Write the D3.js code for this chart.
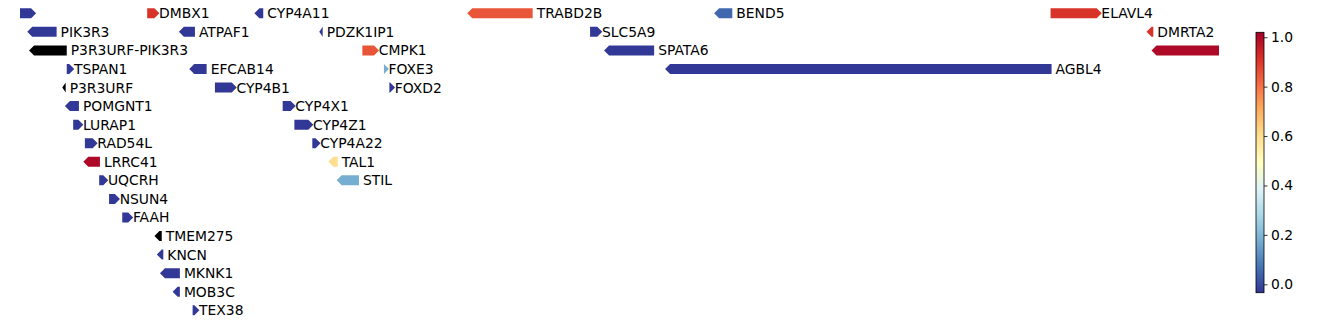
<!DOCTYPE html>
<html>
<head>
<meta charset="utf-8">
<script src="https://cdn.jsdelivr.net/npm/d3@7"></script>
<style>
  body { margin: 0; background: #fff; }
  svg { display: block; font-family: "DejaVu Sans", sans-serif; }
</style>
</head>
<body>
<div id="chart"></div>
<script>
var width = 1338;
var height = 324;

// genes in the region (chr1, positions in Mb), lane = stacking row
var genes   = ["MAST2", "DMBX1", "CYP4A11", "TRABD2B", "BEND5", "ELAVL4",
               "PIK3R3", "ATPAF1", "PDZK1IP1", "SLC5A9", "DMRTA2",
               "P3R3URF-PIK3R3", "CMPK1", "SPATA6", "FAF1",
               "TSPAN1", "EFCAB14", "FOXE3", "AGBL4",
               "P3R3URF", "CYP4B1", "FOXD2",
               "POMGNT1", "CYP4X1",
               "LURAP1", "CYP4Z1",
               "RAD54L", "CYP4A22",
               "LRRC41", "TAL1",
               "UQCRH", "STIL",
               "NSUN4", "FAAH", "TMEM275", "KNCN", "MKNK1", "MOB3C", "TEX38"];
var starts  = [45.787, 46.535, 46.948, 47.768, 48.719, 50.015,
               46.073, 46.657, 47.198, 48.241, 50.385,
               46.080, 47.364, 48.295, 50.404,
               46.225, 46.697, 47.447, 48.530,
               46.208, 46.796, 47.468,
               46.218, 47.057,
               46.250, 47.102,
               46.295, 47.171,
               46.289, 47.233,
               46.350, 47.265,
               46.388, 46.439, 46.563, 46.572, 46.584, 46.633, 46.710];
var ends    = [46.107, 46.582, 46.982, 48.020, 48.789, 50.212,
               46.186, 46.719, 47.211, 48.288, 50.411,
               46.225, 47.428, 48.488, 50.961,
               46.254, 46.764, 47.466, 50.019,
               46.221, 46.880, 47.490,
               46.272, 47.107,
               46.289, 47.175,
               46.344, 47.203,
               46.353, 47.269,
               46.385, 47.351,
               46.430, 46.481, 46.591, 46.597, 46.661, 46.661, 46.736];
var strands = [1, 1, -1, -1, -1, 1,
               -1, -1, -1, 1, -1,
               -1, 1, -1, -1,
               1, -1, 1, -1,
               -1, 1, 1,
               -1, 1,
               1, 1,
               1, 1,
               -1, -1,
               1, -1,
               1, 1, -1, -1, -1, -1, 1];
var lanes   = [0, 0, 0, 0, 0, 0,
               1, 1, 1, 1, 1,
               2, 2, 2, 2,
               3, 3, 3, 3,
               4, 4, 4,
               5, 5,
               6, 6,
               7, 7,
               8, 8,
               9, 9,
               10, 11, 12, 13, 14, 15, 16];
// null = no value (drawn black)
var values  = [-0.03, 0.91, -0.03, 0.85, 0.05, 0.91,
               -0.03, -0.03, -0.03, -0.03, 0.91,
               null, 0.85, -0.03, 1.0,
               -0.03, -0.03, 0.18, -0.03,
               null, -0.03, -0.03,
               -0.03, -0.03,
               -0.03, -0.03,
               -0.03, -0.03,
               1.0, 0.6,
               -0.03, 0.18,
               -0.03, -0.03, null, -0.03, -0.03, -0.03, -0.03];

var regionStart = 46.045;
var regionEnd = 50.664;
var vmin = -0.034, vmax = 1.02;
var cbTicks = [0.0, 0.2, 0.4, 0.6, 0.8, 1.0];

// RdYlBu reversed, as in matplotlib
var cmapColors = ["#313695", "#4575b4", "#74add1", "#abd9e9", "#e0f3f8", "#ffffbf",
                  "#fee090", "#fdae61", "#f46d43", "#d73027", "#a50026"];

var fontSize = "13.89px";

var x = d3.scaleLinear().domain([regionStart, regionEnd]).range([20, 1219]);
var y = d3.scaleLinear().domain([0, 16]).range([13.3, 310.3]);
var norm = d3.scaleLinear().domain([vmin, vmax]).range([0, 1]).clamp(true);
var cmap = d3.scaleLinear()
    .domain(d3.range(cmapColors.length).map(function (i) { return i / (cmapColors.length - 1); }))
    .range(cmapColors);

function colorOf(v) {
    if (v === null) return "#000";
    return cmap(norm(v));
}

var data = genes.map(function (g, i) {
    return { name: g, start: starts[i], end: ends[i], strand: strands[i], lane: lanes[i], value: values[i] };
});

var svg = d3.select("#chart").append("svg")
    .attr("width", width)
    .attr("height", height);

svg.append("clipPath").attr("id", "plot-clip")
    .append("rect")
    .attr("x", x.range()[0]).attr("y", 0)
    .attr("width", x.range()[1] - x.range()[0]).attr("height", height);

/**
 * Gene body with a pointed end in the direction of the strand.
 */
function arrowPath(d) {
    var x0 = x(d.start), x1 = x(d.end), cy = y(d.lane), h = 5;
    var head = Math.min(5, x1 - x0);
    if (d.strand > 0) {
        return "M" + x0 + "," + (cy - h) + "L" + (x1 - head) + "," + (cy - h) +
            "L" + x1 + "," + cy + "L" + (x1 - head) + "," + (cy + h) +
            "L" + x0 + "," + (cy + h) + "Z";
    }
    return "M" + x1 + "," + (cy - h) + "L" + (x0 + head) + "," + (cy - h) +
        "L" + x0 + "," + cy + "L" + (x0 + head) + "," + (cy + h) +
        "L" + x1 + "," + (cy + h) + "Z";
}

svg.append("g").attr("clip-path", "url(#plot-clip)")
    .selectAll("path")
    .data(data)
    .enter()
    .append("path")
    .attr("d", arrowPath)
    .attr("fill", function (d) { return colorOf(d.value); });

// labels only for genes fully inside the region
svg.append("g")
    .selectAll("text")
    .data(data.filter(function (d) { return d.start >= regionStart && d.end <= regionEnd; }))
    .enter()
    .append("text")
    .attr("x", function (d) { return x(d.end) + (d.strand > 0 ? -0.3 : 4); })
    .attr("y", function (d) { return y(d.lane); })
    .attr("dy", "0.36em")
    .attr("font-size", fontSize)
    .attr("fill", "#000")
    .text(function (d) { return d.name; });

// colorbar
var cbX = 1256, cbW = 8, cbTop = 32.3, cbBottom = 292.7;
var cbScale = d3.scaleLinear().domain([vmin, vmax]).range([cbBottom, cbTop]);

var grad = svg.append("defs").append("linearGradient")
    .attr("id", "cb-grad")
    .attr("x1", 0).attr("y1", 1).attr("x2", 0).attr("y2", 0);
d3.range(0, 1.0001, 0.02).forEach(function (t) {
    grad.append("stop").attr("offset", t).attr("stop-color", cmap(t));
});

svg.append("rect")
    .attr("x", cbX).attr("y", cbTop)
    .attr("width", cbW).attr("height", cbBottom - cbTop)
    .attr("fill", "url(#cb-grad)")
    .attr("stroke", "#000")
    .attr("stroke-width", 0.8);

var cbAxis = svg.append("g")
    .attr("transform", "translate(" + (cbX + cbW) + ",0)")
    .call(d3.axisRight(cbScale).tickValues(cbTicks).tickFormat(d3.format(".1f")).tickSize(3.5).tickPadding(3.5));
cbAxis.select(".domain").remove();
cbAxis.selectAll("line").attr("stroke", "#000").attr("stroke-width", 0.8);
cbAxis.selectAll("text")
    .attr("font-size", fontSize)
    .attr("font-family", "DejaVu Sans, sans-serif")
    .attr("fill", "#000");
</script>
</body>
</html>
